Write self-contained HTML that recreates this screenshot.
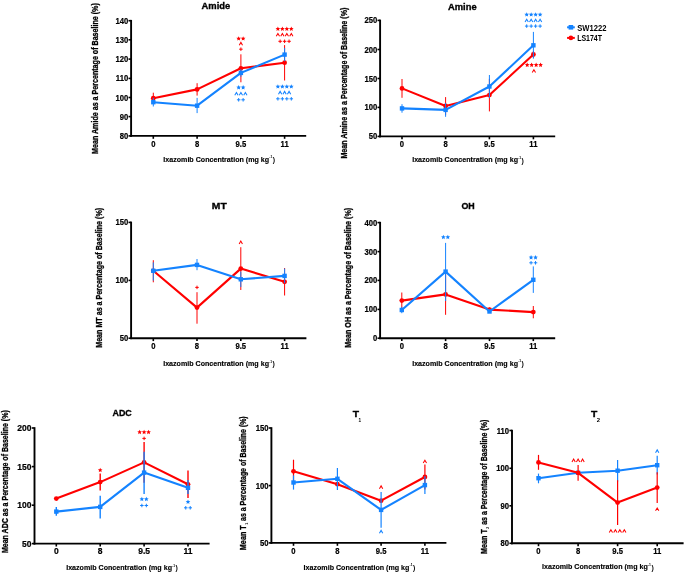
<!DOCTYPE html>
<html><head><meta charset="utf-8"><style>
html,body{margin:0;padding:0;background:#fff;}
body{width:685px;height:573px;overflow:hidden;}
svg{display:block;will-change:transform;}
text{font-family:"Liberation Sans", sans-serif;}
</style></head><body>
<svg width="685" height="573" viewBox="0 0 685 573">
<rect width="685" height="573" fill="#fff"/>
<path d="M131.1 19.9V136.85" fill="none" stroke="#000" stroke-width="1.9"/>
<path d="M130.15 135.9H306.2" fill="none" stroke="#000" stroke-width="1.9"/>
<line x1="128.5" y1="20.7" x2="131.1" y2="20.7" stroke="#000" stroke-width="1.6"/>
<text x="128.2" y="23.7" font-size="8.4" font-weight="bold" text-anchor="end" fill="#000" textLength="12.82" lengthAdjust="spacingAndGlyphs" stroke="#000" stroke-width="0.2">140</text>
<line x1="128.5" y1="39.8" x2="131.1" y2="39.8" stroke="#000" stroke-width="1.6"/>
<text x="128.2" y="42.8" font-size="8.4" font-weight="bold" text-anchor="end" fill="#000" textLength="12.82" lengthAdjust="spacingAndGlyphs" stroke="#000" stroke-width="0.2">130</text>
<line x1="128.5" y1="59.1" x2="131.1" y2="59.1" stroke="#000" stroke-width="1.6"/>
<text x="128.2" y="62.1" font-size="8.4" font-weight="bold" text-anchor="end" fill="#000" textLength="12.82" lengthAdjust="spacingAndGlyphs" stroke="#000" stroke-width="0.2">120</text>
<line x1="128.5" y1="78.4" x2="131.1" y2="78.4" stroke="#000" stroke-width="1.6"/>
<text x="128.2" y="81.4" font-size="8.4" font-weight="bold" text-anchor="end" fill="#000" textLength="12.4" lengthAdjust="spacingAndGlyphs" stroke="#000" stroke-width="0.2">110</text>
<line x1="128.5" y1="97.5" x2="131.1" y2="97.5" stroke="#000" stroke-width="1.6"/>
<text x="128.2" y="100.5" font-size="8.4" font-weight="bold" text-anchor="end" fill="#000" textLength="12.82" lengthAdjust="spacingAndGlyphs" stroke="#000" stroke-width="0.2">100</text>
<line x1="128.5" y1="116.6" x2="131.1" y2="116.6" stroke="#000" stroke-width="1.6"/>
<text x="128.2" y="119.6" font-size="8.4" font-weight="bold" text-anchor="end" fill="#000" textLength="8.55" lengthAdjust="spacingAndGlyphs" stroke="#000" stroke-width="0.2">90</text>
<line x1="128.5" y1="135.9" x2="131.1" y2="135.9" stroke="#000" stroke-width="1.6"/>
<text x="128.2" y="138.9" font-size="8.4" font-weight="bold" text-anchor="end" fill="#000" textLength="8.55" lengthAdjust="spacingAndGlyphs" stroke="#000" stroke-width="0.2">80</text>
<line x1="153.3" y1="135.9" x2="153.3" y2="138.8" stroke="#000" stroke-width="1.6"/>
<text x="153.3" y="146.7" font-size="8.4" font-weight="bold" text-anchor="middle" fill="#000" textLength="4.27" lengthAdjust="spacingAndGlyphs" stroke="#000" stroke-width="0.2">0</text>
<line x1="197.1" y1="135.9" x2="197.1" y2="138.8" stroke="#000" stroke-width="1.6"/>
<text x="197.1" y="146.7" font-size="8.4" font-weight="bold" text-anchor="middle" fill="#000" textLength="4.27" lengthAdjust="spacingAndGlyphs" stroke="#000" stroke-width="0.2">8</text>
<line x1="240.9" y1="135.9" x2="240.9" y2="138.8" stroke="#000" stroke-width="1.6"/>
<text x="240.9" y="146.7" font-size="8.4" font-weight="bold" text-anchor="middle" fill="#000" textLength="10.68" lengthAdjust="spacingAndGlyphs" stroke="#000" stroke-width="0.2">9.5</text>
<line x1="284.6" y1="135.9" x2="284.6" y2="138.8" stroke="#000" stroke-width="1.6"/>
<text x="284.6" y="146.7" font-size="8.4" font-weight="bold" text-anchor="middle" fill="#000" textLength="8.12" lengthAdjust="spacingAndGlyphs" stroke="#000" stroke-width="0.2">11</text>
<text x="201.6" y="8.8" font-size="9.9" font-weight="bold" text-anchor="start" fill="#000" textLength="28.7" lengthAdjust="spacingAndGlyphs" stroke="#000" stroke-width="0.35">Amide</text>
<g transform="translate(97.7 153.9) rotate(-90)">
<text x="0" y="0" font-size="8.2" font-weight="bold" text-anchor="start" fill="#000" textLength="150.7" lengthAdjust="spacingAndGlyphs" stroke="#000" stroke-width="0.3">Mean Amide as a Percentage of Baseline (%)</text>
</g>
<text x="163.3" y="161.8" font-size="7.4" font-weight="bold" text-anchor="start" fill="#000" textLength="105.8" lengthAdjust="spacingAndGlyphs" stroke="#000" stroke-width="0.15">Ixazomib Concentration (mg kg</text>
<text x="269.3" y="158.4" font-size="3.8" font-weight="bold" text-anchor="start" fill="#000" textLength="3" lengthAdjust="spacingAndGlyphs">-1</text>
<text x="272.7" y="162.1" font-size="7.4" font-weight="bold" text-anchor="start" fill="#000" textLength="2.3" lengthAdjust="spacingAndGlyphs">)</text>
<line x1="153.3" y1="92.7" x2="153.3" y2="103.7" stroke="#ff0000" stroke-width="1"/>
<line x1="197.1" y1="83.2" x2="197.1" y2="95.6" stroke="#ff0000" stroke-width="1"/>
<line x1="240.9" y1="54.3" x2="240.9" y2="82.3" stroke="#ff0000" stroke-width="1"/>
<line x1="284.6" y1="45.1" x2="284.6" y2="80.5" stroke="#ff0000" stroke-width="1"/>
<path d="M153.3 98.2 L197.1 89.4 L240.9 68.3 L284.6 62.7" fill="none" stroke="#ff0000" stroke-width="2.1" stroke-linejoin="round"/>
<circle cx="153.3" cy="98.2" r="2.4" fill="#ff0000"/>
<circle cx="197.1" cy="89.4" r="2.4" fill="#ff0000"/>
<circle cx="240.9" cy="68.3" r="2.4" fill="#ff0000"/>
<circle cx="284.6" cy="62.7" r="2.4" fill="#ff0000"/>
<line x1="153.3" y1="97.9" x2="153.3" y2="106.5" stroke="#1483ff" stroke-width="1"/>
<line x1="197.1" y1="97.9" x2="197.1" y2="113.1" stroke="#1483ff" stroke-width="1"/>
<line x1="240.9" y1="69" x2="240.9" y2="76.8" stroke="#1483ff" stroke-width="1"/>
<line x1="284.6" y1="48" x2="284.6" y2="61.2" stroke="#1483ff" stroke-width="1"/>
<path d="M153.3 102.2 L197.1 105.7 L240.9 72.9 L284.6 54.6" fill="none" stroke="#1483ff" stroke-width="2.1" stroke-linejoin="round"/>
<rect x="151.1" y="100" width="4.4" height="4.4" fill="#1483ff"/>
<rect x="194.9" y="103.5" width="4.4" height="4.4" fill="#1483ff"/>
<rect x="238.7" y="70.7" width="4.4" height="4.4" fill="#1483ff"/>
<rect x="282.4" y="52.4" width="4.4" height="4.4" fill="#1483ff"/>
<polygon points="238.66,36.15 239.34,37.67 241,37.84 239.76,38.96 240.11,40.58 238.66,39.75 237.22,40.58 237.57,38.96 236.33,37.84 237.99,37.67" fill="#ff0000"/>
<polygon points="243.13,36.15 243.81,37.67 245.47,37.84 244.23,38.96 244.58,40.58 243.13,39.75 241.69,40.58 242.04,38.96 240.8,37.84 242.46,37.67" fill="#ff0000"/>
<polyline points="239.25,45.2 240.9,42.4 242.55,45.2" fill="none" stroke="#ff0000" stroke-width="1.05"/>
<path d="M239.15 49.2H242.65M240.9 47.45V50.95" stroke="#ff0000" stroke-width="1" fill="none"/>
<polygon points="277.9,26.45 278.57,27.97 280.23,28.14 278.99,29.26 279.34,30.88 277.9,30.05 276.45,30.88 276.8,29.26 275.56,28.14 277.22,27.97" fill="#ff0000"/>
<polygon points="282.37,26.45 283.04,27.97 284.7,28.14 283.46,29.26 283.81,30.88 282.37,30.05 280.92,30.88 281.27,29.26 280.03,28.14 281.69,27.97" fill="#ff0000"/>
<polygon points="286.84,26.45 287.51,27.97 289.17,28.14 287.93,29.26 288.28,30.88 286.84,30.05 285.39,30.88 285.74,29.26 284.5,28.14 286.16,27.97" fill="#ff0000"/>
<polygon points="291.31,26.45 291.98,27.97 293.64,28.14 292.4,29.26 292.75,30.88 291.31,30.05 289.86,30.88 290.21,29.26 288.97,28.14 290.63,27.97" fill="#ff0000"/>
<polyline points="276.25,36.3 277.9,33.5 279.55,36.3" fill="none" stroke="#ff0000" stroke-width="1.05"/>
<polyline points="280.72,36.3 282.37,33.5 284.02,36.3" fill="none" stroke="#ff0000" stroke-width="1.05"/>
<polyline points="285.19,36.3 286.84,33.5 288.49,36.3" fill="none" stroke="#ff0000" stroke-width="1.05"/>
<polyline points="289.66,36.3 291.31,33.5 292.96,36.3" fill="none" stroke="#ff0000" stroke-width="1.05"/>
<path d="M278.38 41.3H281.88M280.13 39.55V43.05" stroke="#ff0000" stroke-width="1" fill="none"/>
<path d="M282.85 41.3H286.35M284.6 39.55V43.05" stroke="#ff0000" stroke-width="1" fill="none"/>
<path d="M287.32 41.3H290.82M289.07 39.55V43.05" stroke="#ff0000" stroke-width="1" fill="none"/>
<polygon points="238.66,85.05 239.34,86.57 241,86.74 239.76,87.86 240.11,89.48 238.66,88.65 237.22,89.48 237.57,87.86 236.33,86.74 237.99,86.57" fill="#1483ff"/>
<polygon points="243.13,85.05 243.81,86.57 245.47,86.74 244.23,87.86 244.58,89.48 243.13,88.65 241.69,89.48 242.04,87.86 240.8,86.74 242.46,86.57" fill="#1483ff"/>
<polyline points="234.78,95.3 236.43,92.5 238.08,95.3" fill="none" stroke="#1483ff" stroke-width="1.05"/>
<polyline points="239.25,95.3 240.9,92.5 242.55,95.3" fill="none" stroke="#1483ff" stroke-width="1.05"/>
<polyline points="243.72,95.3 245.37,92.5 247.02,95.3" fill="none" stroke="#1483ff" stroke-width="1.05"/>
<path d="M236.91 99.8H240.41M238.66 98.05V101.55" stroke="#1483ff" stroke-width="1" fill="none"/>
<path d="M241.38 99.8H244.88M243.13 98.05V101.55" stroke="#1483ff" stroke-width="1" fill="none"/>
<polygon points="277.9,84.15 278.57,85.67 280.23,85.84 278.99,86.96 279.34,88.58 277.9,87.75 276.45,88.58 276.8,86.96 275.56,85.84 277.22,85.67" fill="#1483ff"/>
<polygon points="282.37,84.15 283.04,85.67 284.7,85.84 283.46,86.96 283.81,88.58 282.37,87.75 280.92,88.58 281.27,86.96 280.03,85.84 281.69,85.67" fill="#1483ff"/>
<polygon points="286.84,84.15 287.51,85.67 289.17,85.84 287.93,86.96 288.28,88.58 286.84,87.75 285.39,88.58 285.74,86.96 284.5,85.84 286.16,85.67" fill="#1483ff"/>
<polygon points="291.31,84.15 291.98,85.67 293.64,85.84 292.4,86.96 292.75,88.58 291.31,87.75 289.86,88.58 290.21,86.96 288.97,85.84 290.63,85.67" fill="#1483ff"/>
<polyline points="278.48,94.2 280.13,91.4 281.78,94.2" fill="none" stroke="#1483ff" stroke-width="1.05"/>
<polyline points="282.95,94.2 284.6,91.4 286.25,94.2" fill="none" stroke="#1483ff" stroke-width="1.05"/>
<polyline points="287.42,94.2 289.07,91.4 290.72,94.2" fill="none" stroke="#1483ff" stroke-width="1.05"/>
<path d="M276.15 98.8H279.65M277.9 97.05V100.55" stroke="#1483ff" stroke-width="1" fill="none"/>
<path d="M280.62 98.8H284.12M282.37 97.05V100.55" stroke="#1483ff" stroke-width="1" fill="none"/>
<path d="M285.09 98.8H288.59M286.84 97.05V100.55" stroke="#1483ff" stroke-width="1" fill="none"/>
<path d="M289.56 98.8H293.06M291.31 97.05V100.55" stroke="#1483ff" stroke-width="1" fill="none"/>
<path d="M380.1 19.6V137.35" fill="none" stroke="#000" stroke-width="1.9"/>
<path d="M379.15 136.4H555.2" fill="none" stroke="#000" stroke-width="1.9"/>
<line x1="377.5" y1="20.4" x2="380.1" y2="20.4" stroke="#000" stroke-width="1.6"/>
<text x="377.2" y="23.4" font-size="8.4" font-weight="bold" text-anchor="end" fill="#000" textLength="12.82" lengthAdjust="spacingAndGlyphs" stroke="#000" stroke-width="0.2">250</text>
<line x1="377.5" y1="49.5" x2="380.1" y2="49.5" stroke="#000" stroke-width="1.6"/>
<text x="377.2" y="52.5" font-size="8.4" font-weight="bold" text-anchor="end" fill="#000" textLength="12.82" lengthAdjust="spacingAndGlyphs" stroke="#000" stroke-width="0.2">200</text>
<line x1="377.5" y1="78.5" x2="380.1" y2="78.5" stroke="#000" stroke-width="1.6"/>
<text x="377.2" y="81.5" font-size="8.4" font-weight="bold" text-anchor="end" fill="#000" textLength="12.82" lengthAdjust="spacingAndGlyphs" stroke="#000" stroke-width="0.2">150</text>
<line x1="377.5" y1="107.4" x2="380.1" y2="107.4" stroke="#000" stroke-width="1.6"/>
<text x="377.2" y="110.4" font-size="8.4" font-weight="bold" text-anchor="end" fill="#000" textLength="12.82" lengthAdjust="spacingAndGlyphs" stroke="#000" stroke-width="0.2">100</text>
<line x1="377.5" y1="136.4" x2="380.1" y2="136.4" stroke="#000" stroke-width="1.6"/>
<text x="377.2" y="139.4" font-size="8.4" font-weight="bold" text-anchor="end" fill="#000" textLength="8.55" lengthAdjust="spacingAndGlyphs" stroke="#000" stroke-width="0.2">50</text>
<line x1="402" y1="136.4" x2="402" y2="139.3" stroke="#000" stroke-width="1.6"/>
<text x="402" y="147.2" font-size="8.4" font-weight="bold" text-anchor="middle" fill="#000" textLength="4.27" lengthAdjust="spacingAndGlyphs" stroke="#000" stroke-width="0.2">0</text>
<line x1="445.6" y1="136.4" x2="445.6" y2="139.3" stroke="#000" stroke-width="1.6"/>
<text x="445.6" y="147.2" font-size="8.4" font-weight="bold" text-anchor="middle" fill="#000" textLength="4.27" lengthAdjust="spacingAndGlyphs" stroke="#000" stroke-width="0.2">8</text>
<line x1="489.4" y1="136.4" x2="489.4" y2="139.3" stroke="#000" stroke-width="1.6"/>
<text x="489.4" y="147.2" font-size="8.4" font-weight="bold" text-anchor="middle" fill="#000" textLength="10.68" lengthAdjust="spacingAndGlyphs" stroke="#000" stroke-width="0.2">9.5</text>
<line x1="533.4" y1="136.4" x2="533.4" y2="139.3" stroke="#000" stroke-width="1.6"/>
<text x="533.4" y="147.2" font-size="8.4" font-weight="bold" text-anchor="middle" fill="#000" textLength="8.12" lengthAdjust="spacingAndGlyphs" stroke="#000" stroke-width="0.2">11</text>
<text x="448" y="9.6" font-size="9.9" font-weight="bold" text-anchor="start" fill="#000" textLength="28.6" lengthAdjust="spacingAndGlyphs" stroke="#000" stroke-width="0.35">Amine</text>
<g transform="translate(347.3 158.6) rotate(-90)">
<text x="0" y="0" font-size="8.2" font-weight="bold" text-anchor="start" fill="#000" textLength="151" lengthAdjust="spacingAndGlyphs" stroke="#000" stroke-width="0.3">Mean Amine as a Percentage of Baseline (%)</text>
</g>
<text x="412.2" y="162.2" font-size="7.4" font-weight="bold" text-anchor="start" fill="#000" textLength="105.8" lengthAdjust="spacingAndGlyphs" stroke="#000" stroke-width="0.15">Ixazomib Concentration (mg kg</text>
<text x="518.2" y="158.8" font-size="3.8" font-weight="bold" text-anchor="start" fill="#000" textLength="3" lengthAdjust="spacingAndGlyphs">-1</text>
<text x="521.6" y="162.5" font-size="7.4" font-weight="bold" text-anchor="start" fill="#000" textLength="2.3" lengthAdjust="spacingAndGlyphs">)</text>
<line x1="402" y1="79" x2="402" y2="97.8" stroke="#ff0000" stroke-width="1"/>
<line x1="445.6" y1="97.1" x2="445.6" y2="114.9" stroke="#ff0000" stroke-width="1"/>
<line x1="489.4" y1="78.8" x2="489.4" y2="111.4" stroke="#ff0000" stroke-width="1"/>
<line x1="533.4" y1="51" x2="533.4" y2="58" stroke="#ff0000" stroke-width="1"/>
<path d="M402 88.4 L445.6 106 L489.4 95.1 L533.4 54.5" fill="none" stroke="#ff0000" stroke-width="2.1" stroke-linejoin="round"/>
<circle cx="402" cy="88.4" r="2.4" fill="#ff0000"/>
<circle cx="445.6" cy="106" r="2.4" fill="#ff0000"/>
<circle cx="489.4" cy="95.1" r="2.4" fill="#ff0000"/>
<circle cx="533.4" cy="54.5" r="2.4" fill="#ff0000"/>
<line x1="402" y1="104.2" x2="402" y2="112.7" stroke="#1483ff" stroke-width="1"/>
<line x1="445.6" y1="103" x2="445.6" y2="116.8" stroke="#1483ff" stroke-width="1"/>
<line x1="489.4" y1="75" x2="489.4" y2="98" stroke="#1483ff" stroke-width="1"/>
<line x1="533.4" y1="31.9" x2="533.4" y2="58.7" stroke="#1483ff" stroke-width="1"/>
<path d="M402 108.4 L445.6 109.9 L489.4 86.5 L533.4 45.3" fill="none" stroke="#1483ff" stroke-width="2.1" stroke-linejoin="round"/>
<rect x="399.8" y="106.2" width="4.4" height="4.4" fill="#1483ff"/>
<rect x="443.4" y="107.7" width="4.4" height="4.4" fill="#1483ff"/>
<rect x="487.2" y="84.3" width="4.4" height="4.4" fill="#1483ff"/>
<rect x="531.2" y="43.1" width="4.4" height="4.4" fill="#1483ff"/>
<polygon points="526.69,12.15 527.37,13.67 529.03,13.84 527.79,14.96 528.14,16.58 526.69,15.75 525.25,16.58 525.6,14.96 524.36,13.84 526.02,13.67" fill="#1483ff"/>
<polygon points="531.16,12.15 531.84,13.67 533.5,13.84 532.26,14.96 532.61,16.58 531.16,15.75 529.72,16.58 530.07,14.96 528.83,13.84 530.49,13.67" fill="#1483ff"/>
<polygon points="535.63,12.15 536.31,13.67 537.97,13.84 536.73,14.96 537.08,16.58 535.63,15.75 534.19,16.58 534.54,14.96 533.3,13.84 534.96,13.67" fill="#1483ff"/>
<polygon points="540.1,12.15 540.78,13.67 542.44,13.84 541.2,14.96 541.55,16.58 540.1,15.75 538.66,16.58 539.01,14.96 537.77,13.84 539.43,13.67" fill="#1483ff"/>
<polyline points="525.04,22.1 526.69,19.3 528.34,22.1" fill="none" stroke="#1483ff" stroke-width="1.05"/>
<polyline points="529.51,22.1 531.16,19.3 532.81,22.1" fill="none" stroke="#1483ff" stroke-width="1.05"/>
<polyline points="533.99,22.1 535.63,19.3 537.28,22.1" fill="none" stroke="#1483ff" stroke-width="1.05"/>
<polyline points="538.45,22.1 540.1,19.3 541.75,22.1" fill="none" stroke="#1483ff" stroke-width="1.05"/>
<path d="M524.94 26.1H528.44M526.69 24.35V27.85" stroke="#1483ff" stroke-width="1" fill="none"/>
<path d="M529.41 26.1H532.91M531.16 24.35V27.85" stroke="#1483ff" stroke-width="1" fill="none"/>
<path d="M533.88 26.1H537.38M535.63 24.35V27.85" stroke="#1483ff" stroke-width="1" fill="none"/>
<path d="M538.35 26.1H541.85M540.1 24.35V27.85" stroke="#1483ff" stroke-width="1" fill="none"/>
<polygon points="527.19,62.55 527.87,64.07 529.53,64.24 528.29,65.36 528.64,66.98 527.19,66.15 525.75,66.98 526.1,65.36 524.86,64.24 526.52,64.07" fill="#ff0000"/>
<polygon points="531.66,62.55 532.34,64.07 534,64.24 532.76,65.36 533.11,66.98 531.66,66.15 530.22,66.98 530.57,65.36 529.33,64.24 530.99,64.07" fill="#ff0000"/>
<polygon points="536.13,62.55 536.81,64.07 538.47,64.24 537.23,65.36 537.58,66.98 536.13,66.15 534.69,66.98 535.04,65.36 533.8,64.24 535.46,64.07" fill="#ff0000"/>
<polygon points="540.6,62.55 541.28,64.07 542.94,64.24 541.7,65.36 542.05,66.98 540.6,66.15 539.16,66.98 539.51,65.36 538.27,64.24 539.93,64.07" fill="#ff0000"/>
<polyline points="532.25,72.6 533.9,69.8 535.55,72.6" fill="none" stroke="#ff0000" stroke-width="1.05"/>
<path d="M131.1 221.6V339.15" fill="none" stroke="#000" stroke-width="1.9"/>
<path d="M130.15 338.2H306.4" fill="none" stroke="#000" stroke-width="1.9"/>
<line x1="128.5" y1="222.4" x2="131.1" y2="222.4" stroke="#000" stroke-width="1.6"/>
<text x="128.2" y="225.4" font-size="8.4" font-weight="bold" text-anchor="end" fill="#000" textLength="12.82" lengthAdjust="spacingAndGlyphs" stroke="#000" stroke-width="0.2">150</text>
<line x1="128.5" y1="280.4" x2="131.1" y2="280.4" stroke="#000" stroke-width="1.6"/>
<text x="128.2" y="283.4" font-size="8.4" font-weight="bold" text-anchor="end" fill="#000" textLength="12.82" lengthAdjust="spacingAndGlyphs" stroke="#000" stroke-width="0.2">100</text>
<line x1="128.5" y1="338.2" x2="131.1" y2="338.2" stroke="#000" stroke-width="1.6"/>
<text x="128.2" y="341.2" font-size="8.4" font-weight="bold" text-anchor="end" fill="#000" textLength="8.55" lengthAdjust="spacingAndGlyphs" stroke="#000" stroke-width="0.2">50</text>
<line x1="153.3" y1="338.2" x2="153.3" y2="341.1" stroke="#000" stroke-width="1.6"/>
<text x="153.3" y="349" font-size="8.4" font-weight="bold" text-anchor="middle" fill="#000" textLength="4.27" lengthAdjust="spacingAndGlyphs" stroke="#000" stroke-width="0.2">0</text>
<line x1="197" y1="338.2" x2="197" y2="341.1" stroke="#000" stroke-width="1.6"/>
<text x="197" y="349" font-size="8.4" font-weight="bold" text-anchor="middle" fill="#000" textLength="4.27" lengthAdjust="spacingAndGlyphs" stroke="#000" stroke-width="0.2">8</text>
<line x1="240.8" y1="338.2" x2="240.8" y2="341.1" stroke="#000" stroke-width="1.6"/>
<text x="240.8" y="349" font-size="8.4" font-weight="bold" text-anchor="middle" fill="#000" textLength="10.68" lengthAdjust="spacingAndGlyphs" stroke="#000" stroke-width="0.2">9.5</text>
<line x1="284.6" y1="338.2" x2="284.6" y2="341.1" stroke="#000" stroke-width="1.6"/>
<text x="284.6" y="349" font-size="8.4" font-weight="bold" text-anchor="middle" fill="#000" textLength="8.12" lengthAdjust="spacingAndGlyphs" stroke="#000" stroke-width="0.2">11</text>
<text x="211.8" y="208.9" font-size="9.9" font-weight="bold" text-anchor="start" fill="#000" textLength="14.9" lengthAdjust="spacingAndGlyphs" stroke="#000" stroke-width="0.35">MT</text>
<g transform="translate(102.4 347.8) rotate(-90)">
<text x="0" y="0" font-size="8.2" font-weight="bold" text-anchor="start" fill="#000" textLength="139.9" lengthAdjust="spacingAndGlyphs" stroke="#000" stroke-width="0.3">Mean MT as a Percentage of Baseline (%)</text>
</g>
<text x="163.2" y="365.9" font-size="7.4" font-weight="bold" text-anchor="start" fill="#000" textLength="105.8" lengthAdjust="spacingAndGlyphs" stroke="#000" stroke-width="0.15">Ixazomib Concentration (mg kg</text>
<text x="269.2" y="362.5" font-size="3.8" font-weight="bold" text-anchor="start" fill="#000" textLength="3" lengthAdjust="spacingAndGlyphs">-1</text>
<text x="272.6" y="366.2" font-size="7.4" font-weight="bold" text-anchor="start" fill="#000" textLength="2.3" lengthAdjust="spacingAndGlyphs">)</text>
<line x1="153.3" y1="260.2" x2="153.3" y2="282.3" stroke="#ff0000" stroke-width="1"/>
<line x1="197" y1="292.2" x2="197" y2="323.7" stroke="#ff0000" stroke-width="1"/>
<line x1="240.8" y1="247.2" x2="240.8" y2="290" stroke="#ff0000" stroke-width="1"/>
<line x1="284.6" y1="268" x2="284.6" y2="295.5" stroke="#ff0000" stroke-width="1"/>
<path d="M153.3 270.8 L197 307.6 L240.8 268.6 L284.6 281.8" fill="none" stroke="#ff0000" stroke-width="2.1" stroke-linejoin="round"/>
<circle cx="153.3" cy="270.8" r="2.4" fill="#ff0000"/>
<circle cx="197" cy="307.6" r="2.4" fill="#ff0000"/>
<circle cx="240.8" cy="268.6" r="2.4" fill="#ff0000"/>
<circle cx="284.6" cy="281.8" r="2.4" fill="#ff0000"/>
<line x1="153.3" y1="262.4" x2="153.3" y2="280.6" stroke="#1483ff" stroke-width="1"/>
<line x1="197" y1="259" x2="197" y2="270.2" stroke="#1483ff" stroke-width="1"/>
<line x1="240.8" y1="271.6" x2="240.8" y2="287" stroke="#1483ff" stroke-width="1"/>
<line x1="284.6" y1="268.6" x2="284.6" y2="283.2" stroke="#1483ff" stroke-width="1"/>
<path d="M153.3 270.8 L197 264.9 L240.8 279.3 L284.6 275.9" fill="none" stroke="#1483ff" stroke-width="2.1" stroke-linejoin="round"/>
<rect x="151.1" y="268.6" width="4.4" height="4.4" fill="#1483ff"/>
<rect x="194.8" y="262.7" width="4.4" height="4.4" fill="#1483ff"/>
<rect x="238.6" y="277.1" width="4.4" height="4.4" fill="#1483ff"/>
<rect x="282.4" y="273.7" width="4.4" height="4.4" fill="#1483ff"/>
<path d="M195.25 287.4H198.75M197 285.65V289.15" stroke="#ff0000" stroke-width="1" fill="none"/>
<polyline points="239.15,243.9 240.8,241.1 242.45,243.9" fill="none" stroke="#ff0000" stroke-width="1.05"/>
<path d="M380.1 221.8V339.15" fill="none" stroke="#000" stroke-width="1.9"/>
<path d="M379.15 338.2H555.2" fill="none" stroke="#000" stroke-width="1.9"/>
<line x1="377.5" y1="222.6" x2="380.1" y2="222.6" stroke="#000" stroke-width="1.6"/>
<text x="377.2" y="225.6" font-size="8.4" font-weight="bold" text-anchor="end" fill="#000" textLength="12.82" lengthAdjust="spacingAndGlyphs" stroke="#000" stroke-width="0.2">400</text>
<line x1="377.5" y1="251.6" x2="380.1" y2="251.6" stroke="#000" stroke-width="1.6"/>
<text x="377.2" y="254.6" font-size="8.4" font-weight="bold" text-anchor="end" fill="#000" textLength="12.82" lengthAdjust="spacingAndGlyphs" stroke="#000" stroke-width="0.2">300</text>
<line x1="377.5" y1="280.4" x2="380.1" y2="280.4" stroke="#000" stroke-width="1.6"/>
<text x="377.2" y="283.4" font-size="8.4" font-weight="bold" text-anchor="end" fill="#000" textLength="12.82" lengthAdjust="spacingAndGlyphs" stroke="#000" stroke-width="0.2">200</text>
<line x1="377.5" y1="309.4" x2="380.1" y2="309.4" stroke="#000" stroke-width="1.6"/>
<text x="377.2" y="312.4" font-size="8.4" font-weight="bold" text-anchor="end" fill="#000" textLength="12.82" lengthAdjust="spacingAndGlyphs" stroke="#000" stroke-width="0.2">100</text>
<line x1="377.5" y1="338.2" x2="380.1" y2="338.2" stroke="#000" stroke-width="1.6"/>
<text x="377.2" y="341.2" font-size="8.4" font-weight="bold" text-anchor="end" fill="#000" textLength="4.27" lengthAdjust="spacingAndGlyphs" stroke="#000" stroke-width="0.2">0</text>
<line x1="401.8" y1="338.2" x2="401.8" y2="341.1" stroke="#000" stroke-width="1.6"/>
<text x="401.8" y="349" font-size="8.4" font-weight="bold" text-anchor="middle" fill="#000" textLength="4.27" lengthAdjust="spacingAndGlyphs" stroke="#000" stroke-width="0.2">0</text>
<line x1="445.6" y1="338.2" x2="445.6" y2="341.1" stroke="#000" stroke-width="1.6"/>
<text x="445.6" y="349" font-size="8.4" font-weight="bold" text-anchor="middle" fill="#000" textLength="4.27" lengthAdjust="spacingAndGlyphs" stroke="#000" stroke-width="0.2">8</text>
<line x1="489.5" y1="338.2" x2="489.5" y2="341.1" stroke="#000" stroke-width="1.6"/>
<text x="489.5" y="349" font-size="8.4" font-weight="bold" text-anchor="middle" fill="#000" textLength="10.68" lengthAdjust="spacingAndGlyphs" stroke="#000" stroke-width="0.2">9.5</text>
<line x1="533.3" y1="338.2" x2="533.3" y2="341.1" stroke="#000" stroke-width="1.6"/>
<text x="533.3" y="349" font-size="8.4" font-weight="bold" text-anchor="middle" fill="#000" textLength="8.12" lengthAdjust="spacingAndGlyphs" stroke="#000" stroke-width="0.2">11</text>
<text x="461.4" y="209.2" font-size="9.9" font-weight="bold" text-anchor="start" fill="#000" textLength="13.3" lengthAdjust="spacingAndGlyphs" stroke="#000" stroke-width="0.35">OH</text>
<g transform="translate(350.8 347.8) rotate(-90)">
<text x="0" y="0" font-size="8.2" font-weight="bold" text-anchor="start" fill="#000" textLength="139.9" lengthAdjust="spacingAndGlyphs" stroke="#000" stroke-width="0.3">Mean OH as a Percentage of Baseline (%)</text>
</g>
<text x="412.2" y="365.6" font-size="7.4" font-weight="bold" text-anchor="start" fill="#000" textLength="105.8" lengthAdjust="spacingAndGlyphs" stroke="#000" stroke-width="0.15">Ixazomib Concentration (mg kg</text>
<text x="518.2" y="362.2" font-size="3.8" font-weight="bold" text-anchor="start" fill="#000" textLength="3" lengthAdjust="spacingAndGlyphs">-1</text>
<text x="521.6" y="365.9" font-size="7.4" font-weight="bold" text-anchor="start" fill="#000" textLength="2.3" lengthAdjust="spacingAndGlyphs">)</text>
<line x1="401.8" y1="292.5" x2="401.8" y2="308.7" stroke="#ff0000" stroke-width="1"/>
<line x1="445.6" y1="274" x2="445.6" y2="314.8" stroke="#ff0000" stroke-width="1"/>
<line x1="489.5" y1="307.6" x2="489.5" y2="311.6" stroke="#ff0000" stroke-width="1"/>
<line x1="533.3" y1="306" x2="533.3" y2="318.3" stroke="#ff0000" stroke-width="1"/>
<path d="M401.8 300.6 L445.6 294.4 L489.5 309.6 L533.3 312.1" fill="none" stroke="#ff0000" stroke-width="2.1" stroke-linejoin="round"/>
<circle cx="401.8" cy="300.6" r="2.4" fill="#ff0000"/>
<circle cx="445.6" cy="294.4" r="2.4" fill="#ff0000"/>
<circle cx="489.5" cy="309.6" r="2.4" fill="#ff0000"/>
<circle cx="533.3" cy="312.1" r="2.4" fill="#ff0000"/>
<line x1="401.8" y1="306.8" x2="401.8" y2="313.2" stroke="#1483ff" stroke-width="1"/>
<line x1="445.6" y1="242.9" x2="445.6" y2="301" stroke="#1483ff" stroke-width="1"/>
<line x1="489.5" y1="310" x2="489.5" y2="313" stroke="#1483ff" stroke-width="1"/>
<line x1="533.3" y1="266.4" x2="533.3" y2="292.9" stroke="#1483ff" stroke-width="1"/>
<path d="M401.8 310 L445.6 271.6 L489.5 311.5 L533.3 279.8" fill="none" stroke="#1483ff" stroke-width="2.1" stroke-linejoin="round"/>
<rect x="399.6" y="307.8" width="4.4" height="4.4" fill="#1483ff"/>
<rect x="443.4" y="269.4" width="4.4" height="4.4" fill="#1483ff"/>
<rect x="487.3" y="309.3" width="4.4" height="4.4" fill="#1483ff"/>
<rect x="531.1" y="277.6" width="4.4" height="4.4" fill="#1483ff"/>
<polygon points="443.37,234.75 444.04,236.27 445.7,236.44 444.46,237.56 444.81,239.18 443.37,238.35 441.92,239.18 442.27,237.56 441.03,236.44 442.69,236.27" fill="#1483ff"/>
<polygon points="447.84,234.75 448.51,236.27 450.17,236.44 448.93,237.56 449.28,239.18 447.84,238.35 446.39,239.18 446.74,237.56 445.5,236.44 447.16,236.27" fill="#1483ff"/>
<polygon points="531.06,255.05 531.74,256.57 533.4,256.74 532.16,257.86 532.51,259.48 531.06,258.65 529.62,259.48 529.97,257.86 528.73,256.74 530.39,256.57" fill="#1483ff"/>
<polygon points="535.53,255.05 536.21,256.57 537.87,256.74 536.63,257.86 536.98,259.48 535.53,258.65 534.09,259.48 534.44,257.86 533.2,256.74 534.86,256.57" fill="#1483ff"/>
<path d="M529.31 262.8H532.81M531.06 261.05V264.55" stroke="#1483ff" stroke-width="1" fill="none"/>
<path d="M533.78 262.8H537.28M535.53 261.05V264.55" stroke="#1483ff" stroke-width="1" fill="none"/>
<path d="M34.5 427.2V544.55" fill="none" stroke="#000" stroke-width="1.9"/>
<path d="M33.55 543.6H209.6" fill="none" stroke="#000" stroke-width="1.9"/>
<line x1="31.9" y1="428" x2="34.5" y2="428" stroke="#000" stroke-width="1.6"/>
<text x="31.6" y="431" font-size="8.8" font-weight="bold" text-anchor="end" fill="#000" textLength="14.24" lengthAdjust="spacingAndGlyphs" stroke="#000" stroke-width="0.2">200</text>
<line x1="31.9" y1="466.6" x2="34.5" y2="466.6" stroke="#000" stroke-width="1.6"/>
<text x="31.6" y="469.6" font-size="8.8" font-weight="bold" text-anchor="end" fill="#000" textLength="14.24" lengthAdjust="spacingAndGlyphs" stroke="#000" stroke-width="0.2">150</text>
<line x1="31.9" y1="505.2" x2="34.5" y2="505.2" stroke="#000" stroke-width="1.6"/>
<text x="31.6" y="508.2" font-size="8.8" font-weight="bold" text-anchor="end" fill="#000" textLength="14.24" lengthAdjust="spacingAndGlyphs" stroke="#000" stroke-width="0.2">100</text>
<line x1="31.9" y1="543.6" x2="34.5" y2="543.6" stroke="#000" stroke-width="1.6"/>
<text x="31.6" y="546.6" font-size="8.8" font-weight="bold" text-anchor="end" fill="#000" textLength="9.49" lengthAdjust="spacingAndGlyphs" stroke="#000" stroke-width="0.2">50</text>
<line x1="56.3" y1="543.6" x2="56.3" y2="546.5" stroke="#000" stroke-width="1.6"/>
<text x="56.3" y="554.4" font-size="8.8" font-weight="bold" text-anchor="middle" fill="#000" textLength="4.75" lengthAdjust="spacingAndGlyphs" stroke="#000" stroke-width="0.2">0</text>
<line x1="100.2" y1="543.6" x2="100.2" y2="546.5" stroke="#000" stroke-width="1.6"/>
<text x="100.2" y="554.4" font-size="8.8" font-weight="bold" text-anchor="middle" fill="#000" textLength="4.75" lengthAdjust="spacingAndGlyphs" stroke="#000" stroke-width="0.2">8</text>
<line x1="144.1" y1="543.6" x2="144.1" y2="546.5" stroke="#000" stroke-width="1.6"/>
<text x="144.1" y="554.4" font-size="8.8" font-weight="bold" text-anchor="middle" fill="#000" textLength="11.87" lengthAdjust="spacingAndGlyphs" stroke="#000" stroke-width="0.2">9.5</text>
<line x1="188" y1="543.6" x2="188" y2="546.5" stroke="#000" stroke-width="1.6"/>
<text x="188" y="554.4" font-size="8.8" font-weight="bold" text-anchor="middle" fill="#000" textLength="9.02" lengthAdjust="spacingAndGlyphs" stroke="#000" stroke-width="0.2">11</text>
<text x="112.5" y="415.9" font-size="9.9" font-weight="bold" text-anchor="start" fill="#000" textLength="19.3" lengthAdjust="spacingAndGlyphs" stroke="#000" stroke-width="0.35">ADC</text>
<g transform="translate(7.9 553.1) rotate(-90)">
<text x="0" y="0" font-size="8.2" font-weight="bold" text-anchor="start" fill="#000" textLength="142.9" lengthAdjust="spacingAndGlyphs" stroke="#000" stroke-width="0.3">Mean ADC as a Percentage of Baseline (%)</text>
</g>
<text x="66.2" y="570" font-size="7.4" font-weight="bold" text-anchor="start" fill="#000" textLength="105.8" lengthAdjust="spacingAndGlyphs" stroke="#000" stroke-width="0.15">Ixazomib Concentration (mg kg</text>
<text x="172.2" y="566.6" font-size="3.8" font-weight="bold" text-anchor="start" fill="#000" textLength="3" lengthAdjust="spacingAndGlyphs">-1</text>
<text x="175.6" y="570.3" font-size="7.4" font-weight="bold" text-anchor="start" fill="#000" textLength="2.3" lengthAdjust="spacingAndGlyphs">)</text>
<line x1="100.2" y1="473.6" x2="100.2" y2="490.6" stroke="#ff0000" stroke-width="1.4"/>
<line x1="144.1" y1="442" x2="144.1" y2="482.8" stroke="#ff0000" stroke-width="1.4"/>
<line x1="188" y1="470.5" x2="188" y2="498" stroke="#ff0000" stroke-width="1.4"/>
<path d="M56.3 498.6 L100.2 482.1 L144.1 462.4 L188 484.3" fill="none" stroke="#ff0000" stroke-width="2.1" stroke-linejoin="round"/>
<circle cx="56.3" cy="498.6" r="2.4" fill="#ff0000"/>
<circle cx="100.2" cy="482.1" r="2.4" fill="#ff0000"/>
<circle cx="144.1" cy="462.4" r="2.4" fill="#ff0000"/>
<circle cx="188" cy="484.3" r="2.4" fill="#ff0000"/>
<line x1="56.3" y1="507.1" x2="56.3" y2="515.8" stroke="#1483ff" stroke-width="1.4"/>
<line x1="100.2" y1="495.7" x2="100.2" y2="518.4" stroke="#1483ff" stroke-width="1.4"/>
<line x1="144.1" y1="451.7" x2="144.1" y2="494.1" stroke="#1483ff" stroke-width="1.4"/>
<line x1="188" y1="480" x2="188" y2="494" stroke="#1483ff" stroke-width="1.4"/>
<path d="M56.3 511.6 L100.2 506.9 L144.1 472.6 L188 487.8" fill="none" stroke="#1483ff" stroke-width="2.1" stroke-linejoin="round"/>
<rect x="54.1" y="509.4" width="4.4" height="4.4" fill="#1483ff"/>
<rect x="98" y="504.7" width="4.4" height="4.4" fill="#1483ff"/>
<rect x="141.9" y="470.4" width="4.4" height="4.4" fill="#1483ff"/>
<rect x="185.8" y="485.6" width="4.4" height="4.4" fill="#1483ff"/>
<polygon points="100.2,467.75 100.88,469.27 102.53,469.44 101.29,470.56 101.64,472.18 100.2,471.35 98.76,472.18 99.11,470.56 97.87,469.44 99.52,469.27" fill="#ff0000"/>
<polygon points="139.63,429.75 140.31,431.27 141.96,431.44 140.72,432.56 141.07,434.18 139.63,433.35 138.19,434.18 138.54,432.56 137.3,431.44 138.95,431.27" fill="#ff0000"/>
<polygon points="144.1,429.75 144.78,431.27 146.43,431.44 145.19,432.56 145.54,434.18 144.1,433.35 142.66,434.18 143.01,432.56 141.77,431.44 143.42,431.27" fill="#ff0000"/>
<polygon points="148.57,429.75 149.25,431.27 150.9,431.44 149.66,432.56 150.01,434.18 148.57,433.35 147.13,434.18 147.48,432.56 146.24,431.44 147.89,431.27" fill="#ff0000"/>
<path d="M142.35 438.4H145.85M144.1 436.65V440.15" stroke="#ff0000" stroke-width="1" fill="none"/>
<polygon points="141.86,496.75 142.54,498.27 144.2,498.44 142.96,499.56 143.31,501.18 141.86,500.35 140.42,501.18 140.77,499.56 139.53,498.44 141.19,498.27" fill="#1483ff"/>
<polygon points="146.33,496.75 147.01,498.27 148.67,498.44 147.43,499.56 147.78,501.18 146.33,500.35 144.89,501.18 145.24,499.56 144,498.44 145.66,498.27" fill="#1483ff"/>
<path d="M140.11 505.5H143.61M141.86 503.75V507.25" stroke="#1483ff" stroke-width="1" fill="none"/>
<path d="M144.58 505.5H148.08M146.33 503.75V507.25" stroke="#1483ff" stroke-width="1" fill="none"/>
<polygon points="188,499.45 188.68,500.97 190.33,501.14 189.09,502.26 189.44,503.88 188,503.05 186.56,503.88 186.91,502.26 185.67,501.14 187.32,500.97" fill="#1483ff"/>
<path d="M184.01 507.8H187.51M185.76 506.05V509.55" stroke="#1483ff" stroke-width="1" fill="none"/>
<path d="M188.48 507.8H191.98M190.23 506.05V509.55" stroke="#1483ff" stroke-width="1" fill="none"/>
<path d="M271.4 427.2V543.85" fill="none" stroke="#000" stroke-width="1.9"/>
<path d="M270.45 542.9H446.4" fill="none" stroke="#000" stroke-width="1.9"/>
<line x1="268.8" y1="428" x2="271.4" y2="428" stroke="#000" stroke-width="1.6"/>
<text x="268.5" y="431" font-size="8.4" font-weight="bold" text-anchor="end" fill="#000" textLength="12.82" lengthAdjust="spacingAndGlyphs" stroke="#000" stroke-width="0.2">150</text>
<line x1="268.8" y1="485.6" x2="271.4" y2="485.6" stroke="#000" stroke-width="1.6"/>
<text x="268.5" y="488.6" font-size="8.4" font-weight="bold" text-anchor="end" fill="#000" textLength="12.82" lengthAdjust="spacingAndGlyphs" stroke="#000" stroke-width="0.2">100</text>
<line x1="268.8" y1="542.9" x2="271.4" y2="542.9" stroke="#000" stroke-width="1.6"/>
<text x="268.5" y="545.9" font-size="8.4" font-weight="bold" text-anchor="end" fill="#000" textLength="8.55" lengthAdjust="spacingAndGlyphs" stroke="#000" stroke-width="0.2">50</text>
<line x1="293.5" y1="542.9" x2="293.5" y2="545.8" stroke="#000" stroke-width="1.6"/>
<text x="293.5" y="553.7" font-size="8.4" font-weight="bold" text-anchor="middle" fill="#000" textLength="4.27" lengthAdjust="spacingAndGlyphs" stroke="#000" stroke-width="0.2">0</text>
<line x1="337.4" y1="542.9" x2="337.4" y2="545.8" stroke="#000" stroke-width="1.6"/>
<text x="337.4" y="553.7" font-size="8.4" font-weight="bold" text-anchor="middle" fill="#000" textLength="4.27" lengthAdjust="spacingAndGlyphs" stroke="#000" stroke-width="0.2">8</text>
<line x1="381.1" y1="542.9" x2="381.1" y2="545.8" stroke="#000" stroke-width="1.6"/>
<text x="381.1" y="553.7" font-size="8.4" font-weight="bold" text-anchor="middle" fill="#000" textLength="10.68" lengthAdjust="spacingAndGlyphs" stroke="#000" stroke-width="0.2">9.5</text>
<line x1="424.9" y1="542.9" x2="424.9" y2="545.8" stroke="#000" stroke-width="1.6"/>
<text x="424.9" y="553.7" font-size="8.4" font-weight="bold" text-anchor="middle" fill="#000" textLength="8.12" lengthAdjust="spacingAndGlyphs" stroke="#000" stroke-width="0.2">11</text>
<text x="352.8" y="416.7" font-size="9.9" font-weight="bold" text-anchor="start" fill="#000" textLength="6.3" lengthAdjust="spacingAndGlyphs" stroke="#000" stroke-width="0.35">T</text>
<text x="358.6" y="421.8" font-size="5" font-weight="bold" text-anchor="start" fill="#000" textLength="2.6" lengthAdjust="spacingAndGlyphs">1</text>
<g transform="translate(245.9 550.2) rotate(-90)">
<text x="0" y="0" font-size="8.2" font-weight="bold" text-anchor="start" fill="#000" textLength="25" lengthAdjust="spacingAndGlyphs" stroke="#000" stroke-width="0.3">Mean T</text>
<text x="25.4" y="2.4" font-size="3.6" font-weight="bold" text-anchor="start" fill="#000">1</text>
<text x="29.3" y="0" font-size="8.2" font-weight="bold" text-anchor="start" fill="#000" textLength="104.6" lengthAdjust="spacingAndGlyphs" stroke="#000" stroke-width="0.3">as a Percentage of Baseline (%)</text>
</g>
<text x="303.6" y="569.6" font-size="7.4" font-weight="bold" text-anchor="start" fill="#000" textLength="105.8" lengthAdjust="spacingAndGlyphs" stroke="#000" stroke-width="0.15">Ixazomib Concentration (mg kg</text>
<text x="409.6" y="566.2" font-size="3.8" font-weight="bold" text-anchor="start" fill="#000" textLength="3" lengthAdjust="spacingAndGlyphs">-1</text>
<text x="413" y="569.9" font-size="7.4" font-weight="bold" text-anchor="start" fill="#000" textLength="2.3" lengthAdjust="spacingAndGlyphs">)</text>
<line x1="293.5" y1="459.7" x2="293.5" y2="482.9" stroke="#ff0000" stroke-width="1.2"/>
<line x1="424.9" y1="464.6" x2="424.9" y2="489.4" stroke="#ff0000" stroke-width="1.2"/>
<path d="M293.5 471.3 L337.4 484.2 L381.1 500.7 L424.9 477" fill="none" stroke="#ff0000" stroke-width="2.1" stroke-linejoin="round"/>
<circle cx="293.5" cy="471.3" r="2.4" fill="#ff0000"/>
<circle cx="337.4" cy="484.2" r="2.4" fill="#ff0000"/>
<circle cx="381.1" cy="500.7" r="2.4" fill="#ff0000"/>
<circle cx="424.9" cy="477" r="2.4" fill="#ff0000"/>
<line x1="293.5" y1="475.4" x2="293.5" y2="489.6" stroke="#1483ff" stroke-width="1.2"/>
<line x1="337.4" y1="467.9" x2="337.4" y2="489.9" stroke="#1483ff" stroke-width="1.2"/>
<line x1="381.1" y1="492.1" x2="381.1" y2="527.7" stroke="#1483ff" stroke-width="1.2"/>
<line x1="424.9" y1="476.3" x2="424.9" y2="493.9" stroke="#1483ff" stroke-width="1.2"/>
<path d="M293.5 482.5 L337.4 478.8 L381.1 509.9 L424.9 485.1" fill="none" stroke="#1483ff" stroke-width="2.1" stroke-linejoin="round"/>
<rect x="291.3" y="480.3" width="4.4" height="4.4" fill="#1483ff"/>
<rect x="335.2" y="476.6" width="4.4" height="4.4" fill="#1483ff"/>
<rect x="378.9" y="507.7" width="4.4" height="4.4" fill="#1483ff"/>
<rect x="422.7" y="482.9" width="4.4" height="4.4" fill="#1483ff"/>
<polyline points="379.45,488.7 381.1,485.9 382.75,488.7" fill="none" stroke="#ff0000" stroke-width="1.05"/>
<polyline points="423.25,463.1 424.9,460.3 426.55,463.1" fill="none" stroke="#ff0000" stroke-width="1.05"/>
<polyline points="379.45,533.2 381.1,530.4 382.75,533.2" fill="none" stroke="#1483ff" stroke-width="1.05"/>
<path d="M512 429.7V544.25" fill="none" stroke="#000" stroke-width="1.9"/>
<path d="M511.05 543.3H683.6" fill="none" stroke="#000" stroke-width="1.9"/>
<line x1="509.4" y1="430.5" x2="512" y2="430.5" stroke="#000" stroke-width="1.6"/>
<text x="509.1" y="433.5" font-size="8.4" font-weight="bold" text-anchor="end" fill="#000" textLength="12.4" lengthAdjust="spacingAndGlyphs" stroke="#000" stroke-width="0.2">110</text>
<line x1="509.4" y1="468.3" x2="512" y2="468.3" stroke="#000" stroke-width="1.6"/>
<text x="509.1" y="471.3" font-size="8.4" font-weight="bold" text-anchor="end" fill="#000" textLength="12.82" lengthAdjust="spacingAndGlyphs" stroke="#000" stroke-width="0.2">100</text>
<line x1="509.4" y1="505.8" x2="512" y2="505.8" stroke="#000" stroke-width="1.6"/>
<text x="509.1" y="508.8" font-size="8.4" font-weight="bold" text-anchor="end" fill="#000" textLength="8.55" lengthAdjust="spacingAndGlyphs" stroke="#000" stroke-width="0.2">90</text>
<line x1="509.4" y1="543.3" x2="512" y2="543.3" stroke="#000" stroke-width="1.6"/>
<text x="509.1" y="546.3" font-size="8.4" font-weight="bold" text-anchor="end" fill="#000" textLength="8.55" lengthAdjust="spacingAndGlyphs" stroke="#000" stroke-width="0.2">80</text>
<line x1="538.5" y1="543.3" x2="538.5" y2="546.2" stroke="#000" stroke-width="1.6"/>
<text x="538.5" y="554.1" font-size="8.4" font-weight="bold" text-anchor="middle" fill="#000" textLength="4.27" lengthAdjust="spacingAndGlyphs" stroke="#000" stroke-width="0.2">0</text>
<line x1="578.1" y1="543.3" x2="578.1" y2="546.2" stroke="#000" stroke-width="1.6"/>
<text x="578.1" y="554.1" font-size="8.4" font-weight="bold" text-anchor="middle" fill="#000" textLength="4.27" lengthAdjust="spacingAndGlyphs" stroke="#000" stroke-width="0.2">8</text>
<line x1="617.6" y1="543.3" x2="617.6" y2="546.2" stroke="#000" stroke-width="1.6"/>
<text x="617.6" y="554.1" font-size="8.4" font-weight="bold" text-anchor="middle" fill="#000" textLength="10.68" lengthAdjust="spacingAndGlyphs" stroke="#000" stroke-width="0.2">9.5</text>
<line x1="657.2" y1="543.3" x2="657.2" y2="546.2" stroke="#000" stroke-width="1.6"/>
<text x="657.2" y="554.1" font-size="8.4" font-weight="bold" text-anchor="middle" fill="#000" textLength="8.12" lengthAdjust="spacingAndGlyphs" stroke="#000" stroke-width="0.2">11</text>
<text x="590.9" y="416.9" font-size="9.9" font-weight="bold" text-anchor="start" fill="#000" textLength="6.3" lengthAdjust="spacingAndGlyphs" stroke="#000" stroke-width="0.35">T</text>
<text x="596.7" y="422" font-size="5" font-weight="bold" text-anchor="start" fill="#000" textLength="3.3" lengthAdjust="spacingAndGlyphs">2</text>
<g transform="translate(486.9 554.1) rotate(-90)">
<text x="0" y="0" font-size="8.2" font-weight="bold" text-anchor="start" fill="#000" textLength="25" lengthAdjust="spacingAndGlyphs" stroke="#000" stroke-width="0.3">Mean T</text>
<text x="25.4" y="2.4" font-size="3.6" font-weight="bold" text-anchor="start" fill="#000">2</text>
<text x="29.3" y="0" font-size="8.2" font-weight="bold" text-anchor="start" fill="#000" textLength="105.1" lengthAdjust="spacingAndGlyphs" stroke="#000" stroke-width="0.3">as a Percentage of Baseline (%)</text>
</g>
<text x="542" y="569.4" font-size="7.4" font-weight="bold" text-anchor="start" fill="#000" textLength="105.8" lengthAdjust="spacingAndGlyphs" stroke="#000" stroke-width="0.15">Ixazomib Concentration (mg kg</text>
<text x="648" y="566" font-size="3.8" font-weight="bold" text-anchor="start" fill="#000" textLength="3" lengthAdjust="spacingAndGlyphs">-1</text>
<text x="651.4" y="569.7" font-size="7.4" font-weight="bold" text-anchor="start" fill="#000" textLength="2.3" lengthAdjust="spacingAndGlyphs">)</text>
<line x1="538.5" y1="473.6" x2="538.5" y2="483.3" stroke="#1483ff" stroke-width="1.2"/>
<line x1="617.6" y1="459.9" x2="617.6" y2="481.5" stroke="#1483ff" stroke-width="1.2"/>
<line x1="657.2" y1="455.8" x2="657.2" y2="474.6" stroke="#1483ff" stroke-width="1.2"/>
<path d="M538.5 478.2 L578.1 472.8 L617.6 470.7 L657.2 465.2" fill="none" stroke="#1483ff" stroke-width="2.1" stroke-linejoin="round"/>
<rect x="536.3" y="476" width="4.4" height="4.4" fill="#1483ff"/>
<rect x="575.9" y="470.6" width="4.4" height="4.4" fill="#1483ff"/>
<rect x="615.4" y="468.5" width="4.4" height="4.4" fill="#1483ff"/>
<rect x="655" y="463" width="4.4" height="4.4" fill="#1483ff"/>
<line x1="538.5" y1="454.9" x2="538.5" y2="469.8" stroke="#ff0000" stroke-width="1.2"/>
<line x1="578.1" y1="464.9" x2="578.1" y2="480.8" stroke="#ff0000" stroke-width="1.2"/>
<line x1="617.6" y1="480.2" x2="617.6" y2="525" stroke="#ff0000" stroke-width="1.2"/>
<line x1="657.2" y1="472.2" x2="657.2" y2="503" stroke="#ff0000" stroke-width="1.2"/>
<path d="M538.5 462.4 L578.1 472.8 L617.6 502.6 L657.2 487.6" fill="none" stroke="#ff0000" stroke-width="2.1" stroke-linejoin="round"/>
<circle cx="538.5" cy="462.4" r="2.4" fill="#ff0000"/>
<circle cx="578.1" cy="472.8" r="2.4" fill="#ff0000"/>
<circle cx="617.6" cy="502.6" r="2.4" fill="#ff0000"/>
<circle cx="657.2" cy="487.6" r="2.4" fill="#ff0000"/>
<polyline points="571.98,461.9 573.63,459.1 575.28,461.9" fill="none" stroke="#ff0000" stroke-width="1.05"/>
<polyline points="576.45,461.9 578.1,459.1 579.75,461.9" fill="none" stroke="#ff0000" stroke-width="1.05"/>
<polyline points="580.92,461.9 582.57,459.1 584.22,461.9" fill="none" stroke="#ff0000" stroke-width="1.05"/>
<polyline points="609.25,532.6 610.89,529.8 612.54,532.6" fill="none" stroke="#ff0000" stroke-width="1.05"/>
<polyline points="613.72,532.6 615.37,529.8 617.01,532.6" fill="none" stroke="#ff0000" stroke-width="1.05"/>
<polyline points="618.19,532.6 619.84,529.8 621.49,532.6" fill="none" stroke="#ff0000" stroke-width="1.05"/>
<polyline points="622.65,532.6 624.3,529.8 625.95,532.6" fill="none" stroke="#ff0000" stroke-width="1.05"/>
<polyline points="655.55,510.8 657.2,508 658.85,510.8" fill="none" stroke="#ff0000" stroke-width="1.05"/>
<polyline points="655.55,452.7 657.2,449.9 658.85,452.7" fill="none" stroke="#1483ff" stroke-width="1.05"/>
<line x1="567.1" y1="27.3" x2="574.8" y2="27.3" stroke="#1483ff" stroke-width="2"/>
<rect x="568.6" y="25" width="4.6" height="4.6" fill="#1483ff"/>
<line x1="567.1" y1="37.9" x2="574.8" y2="37.9" stroke="#ff0000" stroke-width="2"/>
<circle cx="570.9" cy="37.9" r="2.3" fill="#ff0000"/>
<text x="577.2" y="31" font-size="8.2" font-weight="bold" text-anchor="start" fill="#000" textLength="29.2" lengthAdjust="spacingAndGlyphs">SW1222</text>
<text x="577.2" y="41.2" font-size="8.2" font-weight="bold" text-anchor="start" fill="#000" textLength="24.8" lengthAdjust="spacingAndGlyphs">LS174T</text>
</svg>
</body></html>
